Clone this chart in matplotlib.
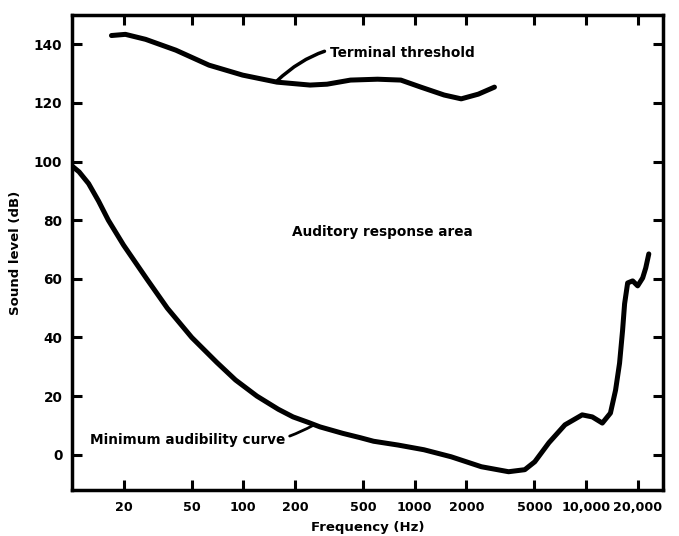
import numpy as np
import matplotlib
matplotlib.use("Agg")
import matplotlib.pyplot as plt

# minimum audibility curve (Hz, dB)
min_freq = [10, 11, 12.5, 14.3, 16.3, 20, 27.3, 36, 50, 70, 90, 120, 160, 195, 240, 280,
            380, 482, 575, 800, 1132, 1632, 2450, 3530, 4390, 5020, 6070, 7530,
            9490, 10870, 12440, 13870, 14860, 15680, 16330, 16780, 17480, 18700,
            20000, 21390, 22290, 23230]
min_db = [98.5, 96.5, 92.5, 86.5, 80, 71.5, 60, 50, 40, 31.5, 25.5, 20, 15.5, 12.9, 11, 9.5,
          7.3, 5.8, 4.6, 3.3, 1.7, -0.7, -4.1, -5.8, -5.1, -2.4, 4.1, 10.2,
          13.6, 12.9, 10.8, 14.2, 22, 31.2, 42.4, 51.5, 58.6, 59.3,
          57.6, 60.3, 63.7, 68.5]

# terminal threshold curve
term_freq = [17, 20.5, 26.9, 40.4, 63, 99, 157, 245, 308, 422, 607, 830, 1086,
             1486, 1868, 2350, 2920]
term_db = [143, 143.4, 141.7, 138, 132.9, 129.5, 127.1, 126.1, 126.4, 127.8, 128.1,
           127.8, 125.4, 122.7, 121.4, 123, 125.4]

xticks = [20, 50, 100, 200, 500, 1000, 2000, 5000, 10000, 20000]
xtick_labels = ["20", "50", "100", "200", "500", "1000", "2000", "5000", "10,000", "20,000"]
yticks = [0, 20, 40, 60, 80, 100, 120, 140]

fig = plt.figure(figsize=(6.79, 5.36), dpi=100)
ax = fig.add_axes([0.106, 0.086, 0.87, 0.886])

ax.plot(min_freq, min_db, color="black", lw=3.6, solid_capstyle="round",
        solid_joinstyle="round")
ax.plot(term_freq, term_db, color="black", lw=3.6, solid_capstyle="round",
        solid_joinstyle="round")

ax.set_xscale("log")
ax.set_xlim(10, 28000)
ax.set_ylim(-12, 150)
ax.set_xticks(xticks)
ax.set_xticklabels(xtick_labels)
ax.minorticks_off()
ax.set_yticks(yticks)

for s in ax.spines.values():
    s.set_linewidth(2.5)
ax.tick_params(direction="in", length=7, width=2.2, top=True, right=True)
ax.tick_params(axis="y", pad=7, labelsize=9.8)
ax.tick_params(axis="x", pad=8, labelsize=9.2)
for lab in ax.get_xticklabels() + ax.get_yticklabels():
    lab.set_fontweight("bold")

ax.set_xlabel("Frequency (Hz)", fontsize=9.5, fontweight="bold", labelpad=5)
ax.set_ylabel("Sound level (dB)", fontsize=9.5, fontweight="bold")
ax.yaxis.set_label_coords(-0.085, 0.5)

ax.text(650, 76, "Auditory response area", fontsize=9.8, fontweight="bold",
        ha="center", va="center")

ax.annotate("Terminal threshold", xy=(157, 127.5), xytext=(320, 137),
            fontsize=9.8, fontweight="bold", va="center", ha="left",
            arrowprops=dict(arrowstyle="-", lw=2.5, color="black",
                            connectionstyle="arc3,rad=0.3",
                            shrinkA=2, shrinkB=0))

ax.annotate("Minimum audibility curve", xy=(255, 10), xytext=(12.8, 5),
            fontsize=9.8, fontweight="bold", va="center", ha="left",
            arrowprops=dict(arrowstyle="-", lw=2, color="black",
                            connectionstyle="arc3,rad=0.2",
                            shrinkA=1, shrinkB=0))

fig.savefig("out.png", dpi=100)
